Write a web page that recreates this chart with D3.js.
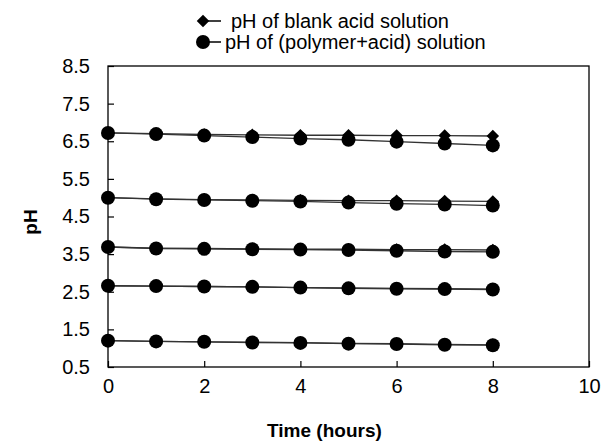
<!DOCTYPE html>
<html>
<head>
<meta charset="utf-8">
<script src="https://cdn.jsdelivr.net/npm/d3@7"></script>
<style>
  body { margin: 0; background: #fff; }
  text { font-family: Arial, "Liberation Sans", sans-serif; fill: #000; }
</style>
</head>
<body>
<svg id="chart" width="601" height="442"></svg>
<script>
// time axis (hours)
var hours = [0, 1, 2, 3, 4, 5, 6, 7, 8];

// pH of blank acid solution, one row per starting pH
var blankAcid = [
  [6.72, 6.70, 6.68, 6.67, 6.66, 6.66, 6.65, 6.65, 6.64],
  [5.00, 4.97, 4.95, 4.94, 4.93, 4.92, 4.92, 4.91, 4.90],
  [3.69, 3.66, 3.65, 3.64, 3.63, 3.63, 3.62, 3.62, 3.61],
  [2.66, 2.65, 2.64, 2.63, 2.61, 2.60, 2.59, 2.58, 2.57],
  [1.20, 1.18, 1.17, 1.16, 1.15, 1.13, 1.12, 1.10, 1.09]
];

// pH of (polymer+acid) solution
var polymerAcid = [
  [6.72, 6.69, 6.65, 6.61, 6.57, 6.54, 6.49, 6.44, 6.39],
  [5.00, 4.96, 4.94, 4.92, 4.90, 4.87, 4.84, 4.82, 4.79],
  [3.69, 3.65, 3.64, 3.63, 3.62, 3.61, 3.59, 3.57, 3.56],
  [2.66, 2.65, 2.64, 2.63, 2.61, 2.59, 2.58, 2.57, 2.56],
  [1.20, 1.18, 1.17, 1.15, 1.14, 1.12, 1.11, 1.09, 1.08]
];

var xTicks = [0, 2, 4, 6, 8, 10];
var yTicks = [0.5, 1.5, 2.5, 3.5, 4.5, 5.5, 6.5, 7.5, 8.5];
var legendLabels = ["pH of blank acid solution", "pH of (polymer+acid) solution"];

var svg = d3.select("#chart"),
    margin = {top: 66, right: 12, bottom: 75, left: 108},
    width = +svg.attr("width") - margin.left - margin.right,
    height = +svg.attr("height") - margin.top - margin.bottom;

var x = d3.scaleLinear().domain([0, 10]).range([0, width]),
    y = d3.scaleLinear().domain([0.5, 8.5]).range([height, 0]);

var g = svg.append("g")
    .attr("transform", "translate(" + margin.left + "," + margin.top + ")");

// frame
g.append("rect")
    .attr("width", width)
    .attr("height", height)
    .attr("fill", "none")
    .attr("stroke", "#000")
    .attr("stroke-width", 1.3);

// axes with inside ticks
var xAxis = g.append("g")
    .attr("transform", "translate(0," + height + ")")
    .call(d3.axisBottom(x).tickValues(xTicks).tickSizeInner(-6).tickSizeOuter(0).tickPadding(12));
var yAxis = g.append("g")
    .call(d3.axisLeft(y).tickValues(yTicks).tickFormat(d3.format(".1f")).tickSizeInner(-6).tickSizeOuter(0).tickPadding(18));

[xAxis, yAxis].forEach(function(a) {
  a.select(".domain").remove();
  a.selectAll("line").attr("stroke", "#000").attr("stroke-width", 1.2);
  a.selectAll("text").style("font-size", "20px").attr("fill", "#000");
});

var line = d3.line()
    .x(function(d, i) { return x(hours[i]); })
    .y(function(d) { return y(d); });

// square diamond, as in the original marker
var diamond = d3.symbol().type(d3.symbolDiamond2).size(100);

// lines first
g.selectAll(".blank-line")
    .data(blankAcid)
    .enter().append("path")
      .attr("class", "blank-line")
      .attr("d", line)
      .attr("fill", "none")
      .attr("stroke", "#333")
      .attr("stroke-width", 1.3);

g.selectAll(".poly-line")
    .data(polymerAcid)
    .enter().append("path")
      .attr("class", "poly-line")
      .attr("d", line)
      .attr("fill", "none")
      .attr("stroke", "#333")
      .attr("stroke-width", 1.3);

// diamonds
blankAcid.forEach(function(series) {
  g.append("g").selectAll("path")
      .data(series)
      .enter().append("path")
        .attr("d", diamond)
        .attr("transform", function(d, i) { return "translate(" + x(hours[i]) + "," + y(d) + ")"; })
        .attr("fill", "#000");
});

// circles
polymerAcid.forEach(function(series) {
  g.append("g").selectAll("circle")
      .data(series)
      .enter().append("circle")
        .attr("cx", function(d, i) { return x(hours[i]); })
        .attr("cy", function(d) { return y(d); })
        .attr("r", 7)
        .attr("fill", "#000");
});

// axis titles
svg.append("text")
    .attr("x", margin.left + x(4.5))
    .attr("y", 437)
    .attr("text-anchor", "middle")
    .style("font-size", "19px")
    .style("font-weight", "bold")
    .text("Time (hours)");

svg.append("text")
    .attr("transform", "translate(37,222) rotate(-90)")
    .attr("text-anchor", "middle")
    .style("font-size", "19px")
    .style("font-weight", "bold")
    .text("pH");

// legend
var legend = svg.append("g");
var rows = [
  {y: 21, tx: 231, label: legendLabels[0], mark: "diamond"},
  {y: 42, tx: 225, label: legendLabels[1], mark: "circle"}
];
rows.forEach(function(r) {
  legend.append("line")
      .attr("x1", 203).attr("x2", 221)
      .attr("y1", r.y).attr("y2", r.y)
      .attr("stroke", "#000").attr("stroke-width", 1.5);
  if (r.mark === "diamond") {
    legend.append("path")
        .attr("d", diamond)
        .attr("transform", "translate(203," + r.y + ")")
        .attr("fill", "#000");
  } else {
    legend.append("circle")
        .attr("cx", 203).attr("cy", r.y).attr("r", 7)
        .attr("fill", "#000");
  }
  legend.append("text")
      .attr("x", r.tx)
      .attr("y", r.y + 7)
      .style("font-size", "20px")
      .text(r.label);
});
</script>
</body>
</html>
